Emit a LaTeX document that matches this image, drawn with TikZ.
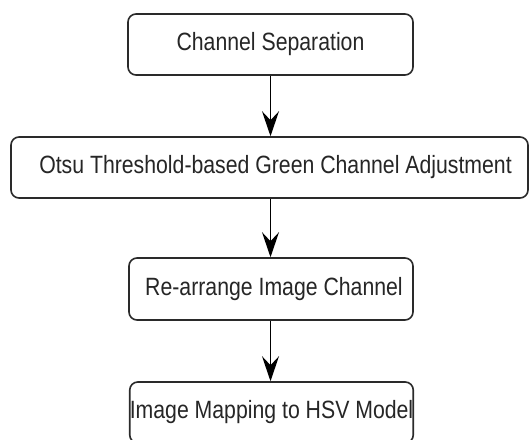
\documentclass[tikz,border=0pt]{standalone}
\usepackage{fontspec}
\setmainfont[FakeStretch=0.85]{Liberation Sans}
\usetikzlibrary{arrows.meta}
\definecolor{edge}{HTML}{2A2A2A}
\tikzset{
  stepbox/.style={draw=edge, line width=1.6pt, rounded corners=8pt, fill=white,
    inner sep=0pt, align=center, font=\fontsize{25pt}{28pt}\selectfont, text=black!85},
  flow/.style={draw=black, line width=1.4pt, -{Stealth[length=25pt,width=17pt,inset=9pt]}}
}
\begin{document}
\begin{tikzpicture}[x=1pt,y=-1pt]
  \useasboundingbox (0,0) rectangle (529,439);
  \clip (0,0) rectangle (529,439);
  \fill[white] (0,0) rectangle (529,439);

  \node[stepbox, minimum width=285pt, minimum height=61pt] (sep) at (270.5,44.5) {Channel Separation};
  \node[stepbox, minimum width=517pt, minimum height=61pt] (otsu) at (269.5,167.5) {\hspace*{12pt}Otsu Threshold-based Green Channel Adjustment};
  \node[stepbox, minimum width=284pt, minimum height=62pt] (rearr) at (271,289) {\hspace*{6pt}Re-arrange Image Channel};
  \node[stepbox, minimum width=283pt, minimum height=61pt] (hsv) at (271.5,412.5) {Image Mapping to HSV Model};

  \draw[flow] (sep.south) -- (sep.south |- otsu.north);
  \draw[flow] (sep.south |- otsu.south) -- (sep.south |- rearr.north);
  \draw[flow] (sep.south |- rearr.south) -- (sep.south |- hsv.north);
\end{tikzpicture}
\end{document}
